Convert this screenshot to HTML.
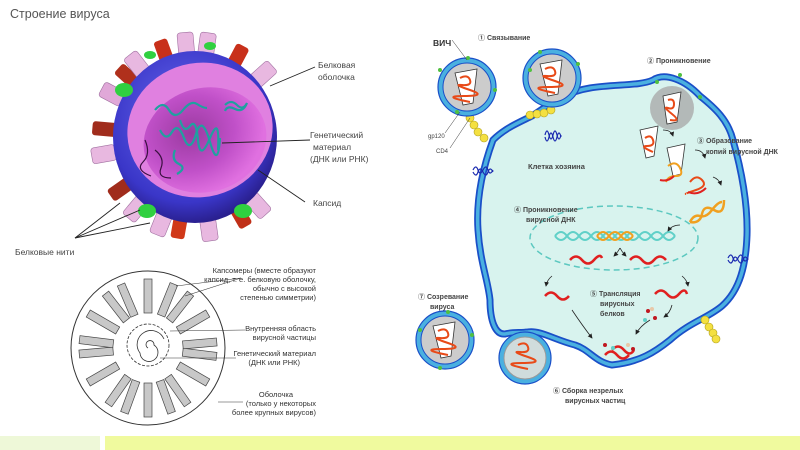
<!DOCTYPE html>
<html><head><meta charset="utf-8"><style>
html,body{margin:0;padding:0;background:#fff}
svg{display:block}
text{font-family:"Liberation Sans","Noto Sans CJK SC",sans-serif}
.s{font-family:"Liberation Serif","Noto Serif CJK SC",serif;font-size:7.5px;fill:#333}
.b{font-size:7px;font-weight:bold;fill:#444}
.l{font-size:8.5px;fill:#444}
</style></head><body>
<svg width="800" height="450" viewBox="0 0 800 450" xmlns="http://www.w3.org/2000/svg">
<defs>
<radialGradient id="sph" cx="45%" cy="40%" r="60%"><stop offset="0" stop-color="#6a6cf0"/><stop offset="0.8" stop-color="#3a36c8"/><stop offset="1" stop-color="#2a2090"/></radialGradient>
<radialGradient id="inn" cx="40%" cy="40%" r="60%"><stop offset="0" stop-color="#9a3aa0"/><stop offset="0.6" stop-color="#c050c8"/><stop offset="1" stop-color="#e070e0"/></radialGradient>
<marker id="ar" markerWidth="6" markerHeight="6" refX="5" refY="3" orient="auto"><path d="M0,0 L6,3 L0,6 z" fill="#222"/></marker>
</defs>

<text x="10" y="18" font-size="12.5" fill="#555">Строение вируса</text>

<g>
<g transform="rotate(-20 195 137)"><rect x="188" y="34" width="14" height="26" rx="3" fill="#c8301a"/></g>
<g transform="rotate(-48 195 137)"><rect x="188" y="34" width="14" height="26" rx="3" fill="#b0301c"/></g>
<g transform="rotate(-85 195 137)"><rect x="188" y="34" width="14" height="26" rx="3" fill="#a02c1c"/></g>
<g transform="rotate(28 195 137)"><rect x="188" y="34" width="14" height="26" rx="3" fill="#c8301a"/></g>
<g transform="rotate(-125 195 137)"><rect x="188" y="34" width="14" height="26" rx="3" fill="#a02c1c"/></g>
<g transform="rotate(-170 195 137)"><rect x="188" y="34" width="14" height="26" rx="3" fill="#d03818"/></g>
<g transform="rotate(150 195 137)"><rect x="188" y="34" width="14" height="26" rx="3" fill="#c03018"/></g>
<g transform="rotate(-5 195 137)"><rect x="186" y="32" width="16" height="24" rx="3" fill="#e8b8e0" stroke="#a070a0" stroke-width=".6"/></g>
<g transform="rotate(8 195 137)"><rect x="186" y="32" width="16" height="24" rx="3" fill="#e8b8e0" stroke="#a070a0" stroke-width=".6"/></g>
<g transform="rotate(48 195 137)"><rect x="186" y="32" width="16" height="24" rx="3" fill="#e8b8e0" stroke="#a070a0" stroke-width=".6"/></g>
<g transform="rotate(-38 195 137)"><rect x="186" y="32" width="16" height="24" rx="3" fill="#e8b8e0" stroke="#a070a0" stroke-width=".6"/></g>
<g transform="rotate(-62 195 137)"><rect x="186" y="32" width="16" height="24" rx="3" fill="#e0a8d8" stroke="#a070a0" stroke-width=".6"/></g>
<g transform="rotate(-100 195 137)"><rect x="186" y="32" width="16" height="24" rx="3" fill="#e8b8e0" stroke="#a070a0" stroke-width=".6"/></g>
<g transform="rotate(-140 195 137)"><rect x="186" y="32" width="16" height="24" rx="3" fill="#e8b8e0" stroke="#a070a0" stroke-width=".6"/></g>
<g transform="rotate(-158 195 137)"><rect x="186" y="32" width="16" height="24" rx="3" fill="#e8b8e0" stroke="#a070a0" stroke-width=".6"/></g>
<g transform="rotate(172 195 137)"><rect x="186" y="32" width="16" height="24" rx="3" fill="#e8b8e0" stroke="#a070a0" stroke-width=".6"/></g>
<g transform="rotate(138 195 137)"><rect x="186" y="32" width="16" height="24" rx="3" fill="#e8b8e0" stroke="#a070a0" stroke-width=".6"/></g>
</g>
<ellipse cx="195" cy="137" rx="82" ry="86" fill="url(#sph)"/>
<ellipse cx="124" cy="90" rx="9" ry="7" fill="#30d040"/>
<ellipse cx="147" cy="211" rx="9" ry="7" fill="#30d040"/>
<ellipse cx="243" cy="211" rx="9" ry="7" fill="#30d040"/>
<ellipse cx="210" cy="46" rx="6" ry="4" fill="#30d040"/>
<ellipse cx="150" cy="55" rx="6" ry="4" fill="#30d040"/>
<ellipse cx="200" cy="130" rx="73" ry="67" transform="rotate(-15 200 130)" fill="#e080e0"/>
<ellipse cx="205" cy="140" rx="62" ry="52" transform="rotate(-15 205 140)" fill="url(#inn)"/>
<g fill="none" stroke="#20a0a0" stroke-width="2.2">
<path d="M155,110 q8,-10 14,0 t14,0 t14,-6 t10,4"/>
<path d="M160,130 q6,12 12,2 t12,6 t12,-4 t14,8 t10,-4"/>
<path d="M180,120 q4,14 10,6 t8,14 t12,-2 t8,12"/>
<path d="M225,105 q6,-6 12,0 t10,-2 q-4,10 -12,6 t-10,2"/>
<path d="M175,150 q-4,10 4,14 t-2,10"/>
</g>
<g fill="none" stroke="#3a1040" stroke-width="1.2">
<path d="M145,140 q6,14 -2,22 t8,14"/><path d="M155,150 q10,8 6,18 t10,10"/>
</g>

<g stroke="#222" stroke-width="0.9" fill="none">
<line x1="270" y1="86" x2="315" y2="67"/>
<line x1="222" y1="143" x2="310" y2="140"/>
<line x1="258" y1="170" x2="305" y2="202"/>
<line x1="75" y1="238" x2="120" y2="203"/>
<line x1="75" y1="238" x2="140" y2="210"/>
<line x1="75" y1="238" x2="150" y2="223"/>
</g>
<text class="l" x="318" y="68">Белковая</text>
<text class="l" x="318" y="80">оболочка</text>
<text class="l" x="310" y="138">Генетический</text>
<text class="l" x="313" y="150">материал</text>
<text class="l" x="310" y="162">(ДНК или РНК)</text>
<text class="l" x="313" y="206">Капсид</text>
<text class="l" x="15" y="255">Белковые нити</text>

<circle cx="148" cy="348" r="77" fill="#fff" stroke="#333" stroke-width="1"/>
<g fill="#c8c8c8" stroke="#444" stroke-width="0.7">
<g transform="rotate(0 148 348)"><rect x="144" y="279" width="8" height="34"/></g>
<g transform="rotate(22 148 348)"><rect x="144" y="279" width="8" height="34"/></g>
<g transform="rotate(38 148 348)"><rect x="144" y="279" width="8" height="34"/></g>
<g transform="rotate(60 148 348)"><rect x="144" y="279" width="8" height="34"/></g>
<g transform="rotate(85 148 348)"><rect x="144" y="279" width="8" height="34"/></g>
<g transform="rotate(97 148 348)"><rect x="144" y="279" width="8" height="34"/></g>
<g transform="rotate(120 148 348)"><rect x="144" y="279" width="8" height="34"/></g>
<g transform="rotate(145 148 348)"><rect x="144" y="279" width="8" height="34"/></g>
<g transform="rotate(160 148 348)"><rect x="144" y="279" width="8" height="34"/></g>
<g transform="rotate(180 148 348)"><rect x="144" y="279" width="8" height="34"/></g>
<g transform="rotate(200 148 348)"><rect x="144" y="279" width="8" height="34"/></g>
<g transform="rotate(215 148 348)"><rect x="144" y="279" width="8" height="34"/></g>
<g transform="rotate(240 148 348)"><rect x="144" y="279" width="8" height="34"/></g>
<g transform="rotate(265 148 348)"><rect x="144" y="279" width="8" height="34"/></g>
<g transform="rotate(277 148 348)"><rect x="144" y="279" width="8" height="34"/></g>
<g transform="rotate(300 148 348)"><rect x="144" y="279" width="8" height="34"/></g>
<g transform="rotate(322 148 348)"><rect x="144" y="279" width="8" height="34"/></g>
<g transform="rotate(337 148 348)"><rect x="144" y="279" width="8" height="34"/></g>
</g>
<path d="M148,348 a4,4 0 1 1 6,-3 a9,9 0 1 1 -14,8 a14,14 0 1 1 24,-14" fill="none" stroke="#333" stroke-width="0.8"/>
<circle cx="148" cy="345" r="21" fill="none" stroke="#333" stroke-width="0.8" stroke-dasharray="3,1.5"/>
<g stroke="#333" stroke-width="0.6">
<line x1="176" y1="286" x2="241" y2="278"/><line x1="185" y1="296" x2="241" y2="278"/>
<line x1="170" y1="331" x2="245" y2="330"/>
<line x1="160" y1="358" x2="236" y2="358"/>
<line x1="218" y1="402" x2="243" y2="402"/>
</g>
<g class="s" text-anchor="end">
<text x="316" y="273">Капсомеры (вместе образуют</text>
<text x="316" y="282">капсид, т. е. белковую оболочку,</text>
<text x="316" y="291">обычно с высокой</text>
<text x="316" y="300">степенью симметрии)</text>
<text x="316" y="331">Внутренняя область</text>
<text x="316" y="340">вирусной частицы</text>
<text x="316" y="356">Генетический материал</text>
<text x="300" y="365">(ДНК или РНК)</text>
<text x="293" y="397">Оболочка</text>
<text x="316" y="406">(только у некоторых</text>
<text x="316" y="415">более крупных вирусов)</text>
</g>

<path d="M493,140 C505,128 520,122 532,116 C550,104 565,92 590,88 C615,84 640,86 653,80 C665,72 685,80 700,96 C715,108 728,120 733,140 C740,165 748,200 747,235 C746,265 740,290 722,306 C708,318 690,322 670,340 C655,352 640,362 612,365 C595,362 590,350 575,345 C555,340 540,330 528,332 C520,333 512,332 505,334 C495,335 490,320 490,300 C488,280 480,262 478,230 C476,200 482,170 493,140 Z" fill="#d8f3ee" stroke="#1a4fc8" stroke-width="7"/>
<path d="M493,140 C505,128 520,122 532,116 C550,104 565,92 590,88 C615,84 640,86 653,80 C665,72 685,80 700,96 C715,108 728,120 733,140 C740,165 748,200 747,235 C746,265 740,290 722,306 C708,318 690,322 670,340 C655,352 640,362 612,365 C595,362 590,350 575,345 C555,340 540,330 528,332 C520,333 512,332 505,334 C495,335 490,320 490,300 C488,280 480,262 478,230 C476,200 482,170 493,140 Z" fill="none" stroke="#4ab0e0" stroke-width="3.5"/>

<ellipse cx="614" cy="238" rx="84" ry="32" fill="none" stroke="#5cc8c0" stroke-width="1.5" stroke-dasharray="6,4"/>
<path d="M555,236 q6,-8 12,0 t12,0 t12,0 t12,0 t12,0 t12,0 t12,0 t12,0 t12,0 t12,0" fill="none" stroke="#60d0c8" stroke-width="2"/>
<path d="M555,236 q6,8 12,0 t12,0 t12,0 t12,0 t12,0 t12,0 t12,0 t12,0 t12,0 t12,0" fill="none" stroke="#60d0c8" stroke-width="2"/>
<path d="M597,236 q6,-8 12,0 t12,0 t12,0" fill="none" stroke="#f0a020" stroke-width="2"/>
<path d="M597,236 q6,8 12,0 t12,0 t12,0" fill="none" stroke="#f0a020" stroke-width="2"/>
<path d="M690,222 q4,-8 10,-6 t12,-6 t10,-8" fill="none" stroke="#f0a020" stroke-width="2.5"/>
<path d="M690,222 q10,2 12,-8 t12,-4 t10,-10" fill="none" stroke="#f0a020" stroke-width="2.5"/>
<g fill="none" stroke="#e02020" stroke-width="2.5">
<path d="M570,260 q6,-7 12,0 t12,0 t8,-2"/>
<path d="M630,260 q6,-7 12,0 t12,0 t12,0"/>
<path d="M545,296 q6,-7 12,0 t12,0"/>
<path d="M655,294 q6,-7 12,0 t12,0 t8,0"/>
<path d="M605,355 q6,-7 12,0 t12,0"/>
<path d="M612,350 q6,-7 12,0 t10,0"/>
</g>
<g fill="none" stroke="#222" stroke-width="0.8" marker-end="url(#ar)">
<path d="M620,248 q-2,4 -6,8"/><path d="M620,248 q2,4 6,8"/>
<path d="M680,225 q-8,0 -12,6"/>
<path d="M552,276 q-5,4 -6,10"/>
<path d="M682,276 q5,4 6,10"/>
<path d="M572,310 q10,15 20,28"/>
<path d="M672,305 q-2,8 -8,12"/>
<path d="M650,320 q-10,6 -14,14"/>
<path d="M663,130 q8,0 10,6"/><path d="M695,150 q8,0 10,8"/><path d="M713,177 q6,2 8,8"/>
</g>
<g>
<path d="M640,130 l18,-4 l-4,30 l-8,2 z" fill="#fff" stroke="#333" stroke-width=".8"/>
<path d="M645,138 q6,-4 8,2 t-6,6 t6,6" fill="none" stroke="#e84a18" stroke-width="2"/>
<path d="M667,148 l18,-4 l-4,30 l-8,2 z" fill="#fff" stroke="#333" stroke-width=".8"/>
<path d="M668,166 q8,-6 12,2 t-4,8 t-10,6" fill="none" stroke="#f0a020" stroke-width="2"/>
<path d="M660,180 q8,2 14,-4" fill="none" stroke="#e02020" stroke-width="2"/>
<path d="M690,182 q6,-8 12,-2 t-6,10 t-10,4" fill="none" stroke="#e84a18" stroke-width="2"/>
<path d="M688,192 q10,4 18,-4" fill="none" stroke="#e02020" stroke-width="2"/>
</g>
<circle cx="672" cy="108" r="22" fill="#aaa" opacity="0.8"/>
<path d="M663,96 l18,-4 l-4,30 l-10,2 z" fill="#fff" stroke="#333" stroke-width=".8"/>
<path d="M668,100 q6,-2 6,4 t-6,4 t4,6 t-2,6" fill="none" stroke="#e84a18" stroke-width="2"/>
<g fill="none" stroke="#1a2ab0" stroke-width="1.2">
<path d="M473,170 q3,-6 5,0 t5,0 t5,0 t5,0"/><path d="M473,172 q3,6 5,0 t5,0 t5,0 t5,0"/>
<path d="M545,135 q2,-8 4,0 t4,0 t4,0 t4,0"/><path d="M545,137 q2,8 4,0 t4,0 t4,0 t4,0"/>
<path d="M728,258 q3,-6 5,0 t5,0 t5,0 t5,0"/><path d="M728,260 q3,6 5,0 t5,0 t5,0 t5,0"/>
</g>
<g fill="#f4e040" stroke="#b0a020" stroke-width=".6">
<circle cx="470" cy="118" r="4"/><circle cx="474" cy="125" r="4"/><circle cx="478" cy="132" r="4"/><circle cx="484" cy="138" r="4"/>
<circle cx="530" cy="115" r="4"/><circle cx="537" cy="114" r="4"/><circle cx="544" cy="113" r="4"/><circle cx="551" cy="110" r="4"/>
<circle cx="705" cy="320" r="4"/><circle cx="709" cy="327" r="4"/><circle cx="713" cy="333" r="4"/><circle cx="716" cy="339" r="4"/>
</g>
<g>
<circle cx="467" cy="87" r="29" fill="#4ab0e0" stroke="#1a4fc8" stroke-width="1.2"/>
<circle cx="467" cy="87" r="24" fill="#ccc" stroke="#1a4fc8" stroke-width="1"/>
<path d="M455,73 l22,-4 l-4,34 l-10,2 z" fill="#fff" stroke="#333" stroke-width=".8"/>
<path d="M460,78 q8,-4 10,2 t-8,5 t8,5 t-6,6 t6,6" fill="none" stroke="#e84a18" stroke-width="2"/>
<circle cx="552" cy="78" r="29" fill="#4ab0e0" stroke="#1a4fc8" stroke-width="1.2"/>
<circle cx="552" cy="78" r="24" fill="#ccc" stroke="#1a4fc8" stroke-width="1"/>
<path d="M540,64 l22,-4 l-4,34 l-10,2 z" fill="#fff" stroke="#333" stroke-width=".8"/>
<path d="M545,69 q8,-4 10,2 t-8,5 t8,5 t-6,6 t6,6" fill="none" stroke="#e84a18" stroke-width="2"/>
<circle cx="445" cy="340" r="29" fill="#4ab0e0" stroke="#1a4fc8" stroke-width="1.2"/>
<circle cx="445" cy="340" r="24" fill="#ccc" stroke="#1a4fc8" stroke-width="1"/>
<path d="M433,326 l22,-4 l-4,34 l-10,2 z" fill="#fff" stroke="#333" stroke-width=".8"/>
<path d="M438,331 q8,-4 10,2 t-8,5 t8,5 t-6,6 t6,6" fill="none" stroke="#e84a18" stroke-width="2"/>
<circle cx="525" cy="358" r="26" fill="#4ab0e0" stroke="#1a4fc8" stroke-width="1.2"/>
<circle cx="525" cy="358" r="21" fill="#d0dcdc" stroke="#999" stroke-width="1"/>
<path d="M518,345 q8,-4 10,2 t-8,5 t8,5 t-6,6 t6,6" fill="none" stroke="#e84a18" stroke-width="2"/>
</g>
<g fill="#50c040">
<circle cx="440" cy="70" r="2"/><circle cx="495" cy="90" r="2"/><circle cx="457" cy="112" r="2"/><circle cx="468" cy="58" r="2"/>
<circle cx="530" cy="70" r="2"/><circle cx="578" cy="64" r="2"/><circle cx="540" cy="52" r="2"/>
<circle cx="420" cy="330" r="2"/><circle cx="472" cy="335" r="2"/><circle cx="440" cy="368" r="2"/><circle cx="448" cy="312" r="2"/>
<circle cx="657" cy="82" r="2"/><circle cx="680" cy="75" r="2"/><circle cx="700" cy="97" r="2"/>
</g>
<g>
<circle cx="648" cy="311" r="2" fill="#c01820"/><circle cx="655" cy="318" r="2" fill="#c01820"/><circle cx="645" cy="320" r="2" fill="#60d0c8"/><circle cx="652" cy="309" r="2" fill="#e8c8a8"/>
<circle cx="605" cy="345" r="2" fill="#c01820"/><circle cx="613" cy="348" r="2" fill="#60d0c8"/><circle cx="628" cy="345" r="2" fill="#e8c8a8"/><circle cx="633" cy="349" r="2" fill="#c01820"/>
</g>

<g class="b">
<text x="433" y="46" font-size="8.5" fill="#333">ВИЧ</text>
<text x="478" y="40">① Связывание</text>
<text x="647" y="63">② Проникновение</text>
<text x="697" y="143">③ Образование</text>
<text x="706" y="154">копий вирусной ДНК</text>
<text x="528" y="169" font-size="7.5">Клетка хозяина</text>
<text x="514" y="212">④ Проникновение</text>
<text x="526" y="222">вирусной ДНК</text>
<text x="590" y="296">⑤ Трансляция</text>
<text x="600" y="306">вирусных</text>
<text x="600" y="316">белков</text>
<text x="418" y="299">⑦ Созревание</text>
<text x="430" y="309">вируса</text>
<text x="553" y="393">⑥ Сборка незрелых</text>
<text x="565" y="403">вирусных частиц</text>
<text x="428" y="138" font-weight="normal" font-size="6">gp120</text>
<text x="436" y="153" font-weight="normal" font-size="6">CD4</text>
</g>
<g stroke="#333" stroke-width=".5"><line x1="452" y1="40" x2="467" y2="60"/><line x1="445" y1="133" x2="460" y2="112"/><line x1="450" y1="148" x2="470" y2="118"/></g>

<rect x="0" y="436" width="100" height="14" fill="#eef8d8"/>
<rect x="105" y="436" width="695" height="14" fill="#f0fa9e"/>
</svg>
</body></html>
